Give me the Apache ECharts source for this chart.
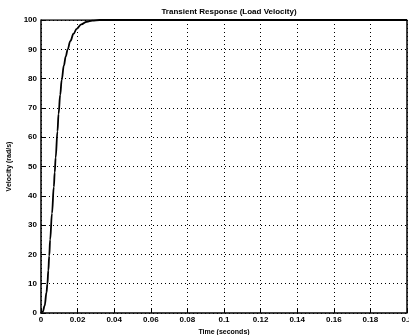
<!DOCTYPE html>
<html>
<head>
<meta charset="utf-8">
<script src="https://cdn.jsdelivr.net/npm/echarts@6/dist/echarts.min.js"></script>
<style>
  html, body { margin: 0; padding: 0; background: #fff; }
  #chart { width: 409px; height: 335px; }
</style>
</head>
<body>
<div id="chart"></div>
<script>
// transient response
const timeSec = [0, 0.001, 0.002, 0.003, 0.0035, 0.004, 0.0045, 0.005, 0.006, 0.007, 0.0075,
  0.008, 0.009, 0.0096, 0.0105, 0.0113, 0.0125, 0.0135, 0.0146, 0.016, 0.0178, 0.0195,
  0.022, 0.025, 0.028, 0.032, 0.04, 0.2];
const velocity = [0, 0.5, 2.5, 7, 10, 14.5, 19.5, 25, 34, 43, 48, 53, 62, 68, 74.5, 79.5, 84.5, 87.5,
  90, 92.8, 95.3, 97, 98.5, 99.4, 99.8, 100, 100, 100];

const chart = echarts.init(document.getElementById('chart'));
const font = 'Liberation Sans';

chart.setOption({
  animation: false,
  title: {
    text: 'Transient Response (Load Velocity)',
    left: 224, top: 3, textAlign: 'center',
    textStyle: { fontSize: 8, fontWeight: 'bold', color: '#000', fontFamily: font }
  },
  grid: { left: 41, right: 2, top: 20, bottom: 22, outerBoundsMode: 'none', containLabel: false },
  xAxis: {
    type: 'value', min: 0, max: 0.2, interval: 0.02,
    name: 'Time (seconds)', nameLocation: 'middle', nameGap: 11,
    nameTextStyle: { fontSize: 7, fontWeight: 'bold', color: '#000', fontFamily: font },
    axisLine: { onZero: false, lineStyle: { color: '#000', width: 1.5 } },
    axisTick: { inside: true, length: 4, lineStyle: { color: '#000' } },
    axisLabel: {
      fontSize: 8, fontWeight: 'bold', color: '#000', fontFamily: font, margin: 3,
      hideOverlap: false,
      formatter: v => String(+v.toFixed(2))
    },
    splitLine: { show: true, lineStyle: { color: '#000', type: [1, 3], width: 1 } }
  },
  yAxis: {
    type: 'value', min: 0, max: 100, interval: 10,
    name: 'Velocity (rad/s)', nameLocation: 'middle', nameGap: 27,
    nameTextStyle: { fontSize: 7, fontWeight: 'bold', color: '#000', fontFamily: font },
    axisLine: { show: true, lineStyle: { color: '#000', width: 1.5 } },
    axisTick: { show: true, inside: true, length: 4, lineStyle: { color: '#000' } },
    axisLabel: { fontSize: 8, fontWeight: 'bold', color: '#000', fontFamily: font, margin: 4 },
    splitLine: { show: true, lineStyle: { color: '#000', type: [1, 3], width: 1 } }
  },
  series: [{
    type: 'line',
    data: timeSec.map((t, i) => [t, velocity[i]]),
    smooth: 0.4,
    smoothMonotone: 'x',
    showSymbol: false,
    lineStyle: { color: '#000', width: 1.8 }
  }, {
    // frame on top and right
    type: 'line',
    data: [[0, 100], [0.2, 100], [0.2, 0]],
    showSymbol: false,
    silent: true,
    lineStyle: { color: '#000', width: 1.5 }
  }]
});
</script>
</body>
</html>
